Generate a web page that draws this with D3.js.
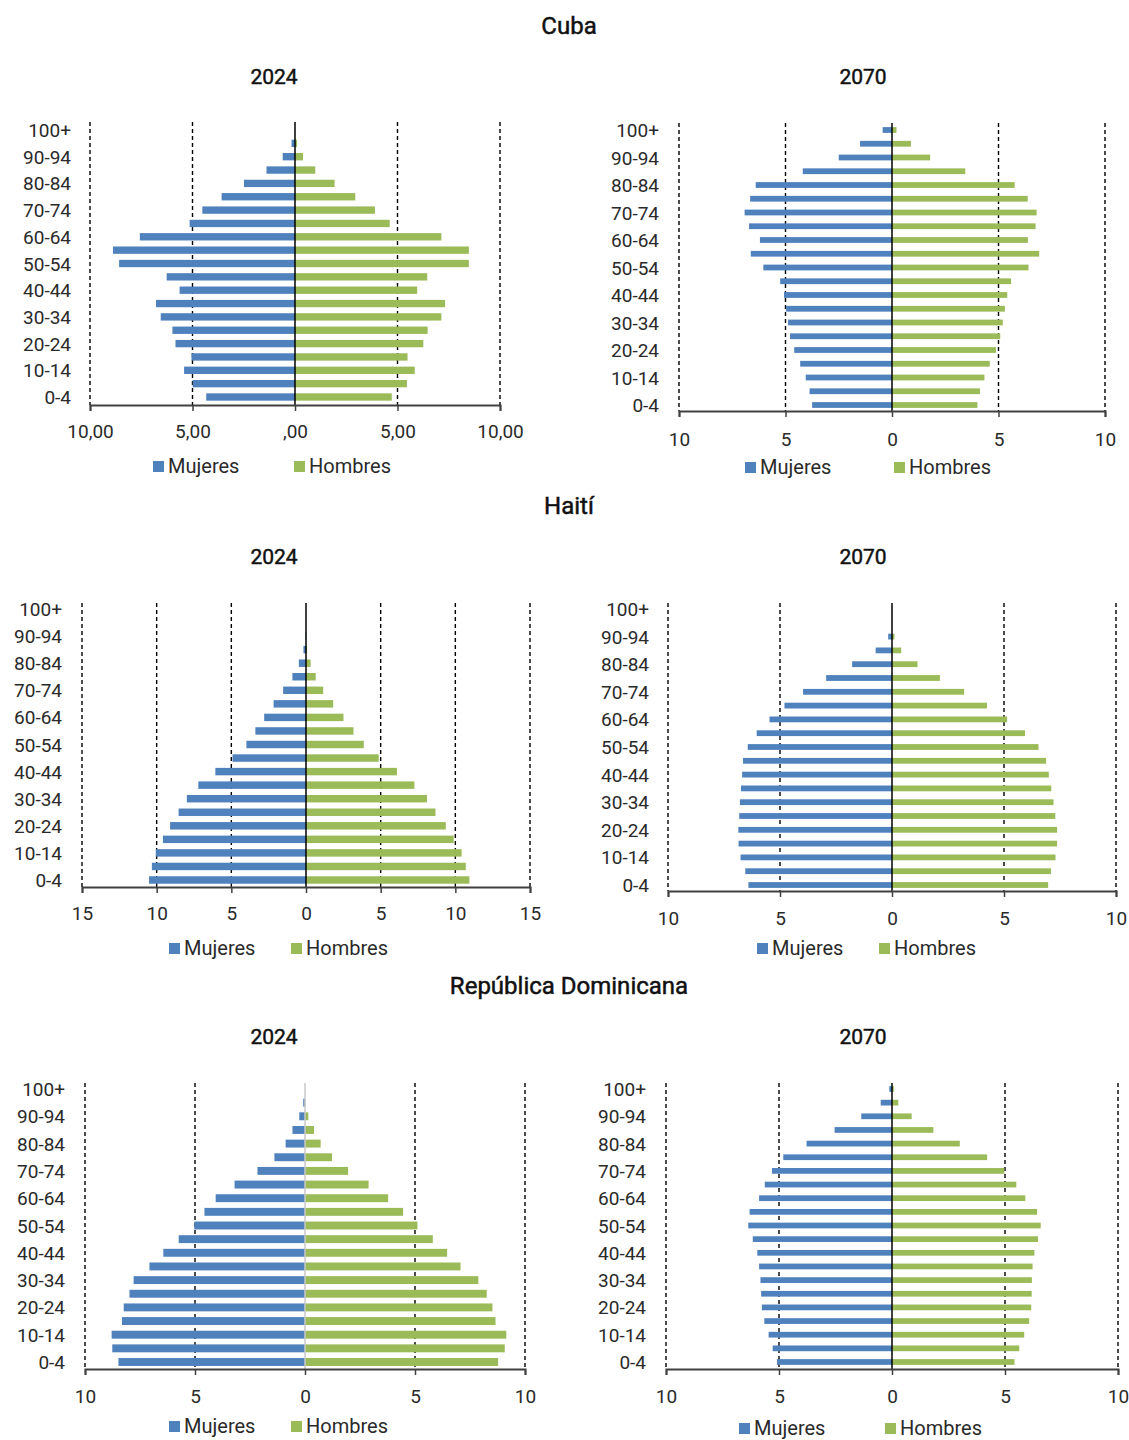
<!DOCTYPE html>
<html lang="es">
<head>
<meta charset="utf-8">
<title>Pirámides de población</title>
<script src="https://cdn.jsdelivr.net/npm/d3@7"></script>
<style>
  html, body { margin: 0; padding: 0; background: #fff; }
  svg { display: block; font-family: Roboto, "Noto Sans", sans-serif; }
</style>
</head>
<body>
<svg id="chart" width="1129" height="1440"></svg>
<script>
// Grupos de edad, de menor a mayor
const ageGroups = ["0-4","5-9","10-14","15-19","20-24","25-29","30-34","35-39","40-44","45-49",
  "50-54","55-59","60-64","65-69","70-74","75-79","80-84","85-89","90-94","95-99","100+"];

// Etiquetas visibles en el eje vertical
const ageTickLabels = ["100+","90-94","80-84","70-74","60-64","50-54","40-44","30-34","20-24","10-14","0-4"];

const seriesNames = ["Mujeres", "Hombres"];
const countries = ["Cuba", "Haití", "República Dominicana"];
const years = ["2024", "2070"];

// Porcentaje de población por grupo de edad (0-4 ... 100+)
const cuba2024Mujeres = [4.33,4.99,5.41,5.05,5.83,5.98,6.55,6.78,5.63,6.26,8.58,8.88,7.57,5.14,4.52,3.58,2.49,1.39,0.60,0.17,0];
const cuba2024Hombres = [4.72,5.46,5.84,5.49,6.26,6.47,7.14,7.32,5.96,6.45,8.48,8.48,7.14,4.62,3.90,2.94,1.93,0.99,0.39,0.10,0];
const cuba2070Mujeres = [3.75,3.87,4.05,4.31,4.59,4.79,4.88,4.97,5.07,5.25,6.04,6.63,6.20,6.71,6.92,6.66,6.40,4.19,2.50,1.50,0.44];
const cuba2070Hombres = [4.01,4.13,4.34,4.59,4.88,5.08,5.20,5.30,5.41,5.59,6.41,6.91,6.38,6.74,6.79,6.37,5.76,3.44,1.79,0.89,0.21];

const haiti2024Mujeres = [10.51,10.32,10.06,9.58,9.10,8.53,7.98,7.21,6.07,4.92,3.99,3.39,2.80,2.17,1.53,0.91,0.48,0.17,0.03,0,0];
const haiti2024Hombres = [10.94,10.70,10.42,9.89,9.36,8.67,8.10,7.26,6.09,4.87,3.87,3.18,2.51,1.82,1.15,0.65,0.31,0.07,0.02,0,0];
const haiti2070Mujeres = [6.41,6.55,6.76,6.85,6.86,6.82,6.79,6.74,6.69,6.65,6.44,6.04,5.47,4.80,3.97,2.94,1.78,0.73,0.17,0,0];
const haiti2070Hombres = [6.97,7.10,7.30,7.37,7.37,7.29,7.21,7.11,7.00,6.88,6.54,5.94,5.14,4.24,3.22,2.14,1.14,0.41,0.11,0,0];

const rd2024Mujeres = [8.48,8.76,8.79,8.32,8.24,7.98,7.79,7.07,6.44,5.74,5.03,4.57,4.06,3.20,2.16,1.39,0.88,0.57,0.26,0.08,0];
const rd2024Hombres = [8.78,9.08,9.15,8.66,8.52,8.26,7.88,7.07,6.46,5.81,5.11,4.46,3.78,2.89,1.96,1.23,0.71,0.41,0.15,0.02,0];
const rd2070Mujeres = [5.09,5.28,5.46,5.65,5.76,5.79,5.82,5.88,5.96,6.16,6.36,6.30,5.88,5.63,5.31,4.81,3.78,2.54,1.36,0.50,0.12];
const rd2070Hombres = [5.42,5.63,5.85,6.07,6.16,6.18,6.19,6.22,6.30,6.46,6.58,6.42,5.90,5.50,4.97,4.21,3.00,1.83,0.87,0.28,0.08];

// Marcas del eje horizontal
const ticks10 = [-10, -5, 0, 5, 10];
const ticks15 = [-15, -10, -5, 0, 5, 10, 15];

const colorMujeres = "#4f81bd";
const colorHombres = "#9bbb59";
const textColor = "#2a2a2a";

const fmtDecimal = v => v === 0 ? ",00" : d3.format(".2f")(Math.abs(v)).replace(".", ",");
const fmtInteger = v => String(Math.abs(v));

const svg = d3.select("#chart");

// Títulos de país
const countryTitleY = [26, 506, 986];
countries.forEach((c, i) => {
  svg.append("text")
    .attr("x", 569).attr("y", countryTitleY[i])
    .attr("text-anchor", "middle").attr("dominant-baseline", "central")
    .attr("font-size", 24).attr("font-weight", 400)
    .attr("fill", "#111").attr("stroke", "#111").attr("stroke-width", 0.5)
    .text(c);
});

// Disposición de cada pirámide
const panels = [
  { country: 0, year: 0, women: cuba2024Mujeres, men: cuba2024Hombres, ticks: ticks10, fmt: fmtDecimal,
    x0: 90, x1: 500, top: 122, bottom: 405, yFirst: 130, yLast: 397, labelRight: 71, barFrac: 0.55,
    tickY: 431, legendY: 466, legendX: [153, 294], centerColor: "#000" },
  { country: 0, year: 1, women: cuba2070Mujeres, men: cuba2070Hombres, ticks: ticks10, fmt: fmtInteger,
    x0: 679, x1: 1105, top: 123, bottom: 411, yFirst: 130, yLast: 405, labelRight: 659, barFrac: 0.42,
    tickY: 439, legendY: 467, legendX: [745, 894], centerColor: "#000" },
  { country: 1, year: 0, women: haiti2024Mujeres, men: haiti2024Hombres, ticks: ticks15, fmt: fmtInteger,
    x0: 82, x1: 530, top: 603, bottom: 887, yFirst: 609, yLast: 880, labelRight: 62, barFrac: 0.55,
    tickY: 913, legendY: 948, legendX: [169, 291], centerColor: "#000" },
  { country: 1, year: 1, women: haiti2070Mujeres, men: haiti2070Hombres, ticks: ticks10, fmt: fmtInteger,
    x0: 668, x1: 1116, top: 603, bottom: 891, yFirst: 609, yLast: 885, labelRight: 649, barFrac: 0.42,
    tickY: 918, legendY: 948, legendX: [757, 879], centerColor: "#000" },
  { country: 2, year: 0, women: rd2024Mujeres, men: rd2024Hombres, ticks: ticks10, fmt: fmtInteger,
    x0: 85, x1: 525, top: 1083, bottom: 1369, yFirst: 1089, yLast: 1362, labelRight: 65, barFrac: 0.58,
    tickY: 1396, legendY: 1426, legendX: [169, 291], centerColor: "#c8c8c8" },
  { country: 2, year: 1, women: rd2070Mujeres, men: rd2070Hombres, ticks: ticks10, fmt: fmtInteger,
    x0: 666, x1: 1118, top: 1083, bottom: 1369, yFirst: 1089, yLast: 1362, labelRight: 646, barFrac: 0.42,
    tickY: 1396, legendY: 1428, legendX: [739, 885], centerColor: "#000" }
];

const yearCenterX = [274, 863];
const yearTitleY = [77, 557, 1037];

panels.forEach(p => {
  const g = svg.append("g");
  const maxV = d3.max(p.ticks);

  const x = d3.scaleLinear().domain([-maxV, maxV]).range([p.x0, p.x1]);
  const y = d3.scalePoint().domain(ageGroups.slice().reverse()).range([p.yFirst, p.yLast]);
  const barH = y.step() * p.barFrac;

  // Título del año
  g.append("text")
    .attr("x", yearCenterX[p.year]).attr("y", yearTitleY[p.country])
    .attr("text-anchor", "middle").attr("dominant-baseline", "central")
    .attr("font-size", 21).attr("font-weight", 400)
    .attr("fill", "#111").attr("stroke", "#111").attr("stroke-width", 0.45)
    .text(years[p.year]);

  // Líneas guía discontinuas
  g.append("g").selectAll("line")
    .data(p.ticks.filter(t => t !== 0))
    .join("line")
    .attr("x1", d => x(d)).attr("x2", d => x(d))
    .attr("y1", p.top).attr("y2", p.bottom)
    .attr("stroke", "#000").attr("stroke-width", 1.4)
    .attr("stroke-dasharray", "4,3");

  const rows = ageGroups.map((a, i) => ({ age: a, women: p.women[i], men: p.men[i] }));

  // Barras de mujeres (izquierda)
  g.append("g").selectAll("rect")
    .data(rows.filter(d => d.women > 0))
    .join("rect")
    .attr("x", d => x(-d.women))
    .attr("width", d => x(0) - x(-d.women))
    .attr("y", d => y(d.age) - barH / 2)
    .attr("height", barH)
    .attr("fill", colorMujeres);

  // Barras de hombres (derecha)
  g.append("g").selectAll("rect")
    .data(rows.filter(d => d.men > 0))
    .join("rect")
    .attr("x", x(0))
    .attr("width", d => x(d.men) - x(0))
    .attr("y", d => y(d.age) - barH / 2)
    .attr("height", barH)
    .attr("fill", colorHombres);

  // Eje central
  g.append("line")
    .attr("x1", x(0)).attr("x2", x(0))
    .attr("y1", p.top).attr("y2", p.bottom)
    .attr("stroke", p.centerColor).attr("stroke-width", 1.5);

  // Eje horizontal
  const xAxis = d3.axisBottom(x).tickValues(p.ticks).tickFormat(p.fmt).tickSize(6).tickPadding(0);
  const ax = g.append("g").attr("transform", `translate(0,${p.bottom})`).call(xAxis);
  ax.select(".domain").attr("stroke", "#404040").attr("stroke-width", 2);
  ax.selectAll(".tick line").attr("stroke", "#404040").attr("stroke-width", 1.5);
  ax.selectAll(".tick text")
    .attr("y", p.tickY - p.bottom).attr("dy", null)
    .attr("dominant-baseline", "central")
    .attr("font-size", 19).attr("fill", textColor)
    .attr("font-family", "Roboto, sans-serif");

  // Etiquetas de edad
  const yAxis = d3.axisLeft(y).tickValues(ageTickLabels).tickSize(0).tickPadding(0);
  const ay = g.append("g").attr("transform", `translate(${p.labelRight},0)`).call(yAxis);
  ay.select(".domain").remove();
  ay.selectAll(".tick text")
    .attr("dy", null).attr("dominant-baseline", "central")
    .attr("font-size", 19).attr("fill", textColor)
    .attr("font-family", "Roboto, sans-serif");

  // Leyenda
  const leg = g.append("g");
  seriesNames.forEach((name, i) => {
    leg.append("rect")
      .attr("x", p.legendX[i]).attr("y", p.legendY - 5)
      .attr("width", 11).attr("height", 11)
      .attr("fill", i === 0 ? colorMujeres : colorHombres);
    leg.append("text")
      .attr("x", p.legendX[i] + 15).attr("y", p.legendY)
      .attr("dominant-baseline", "central")
      .attr("font-size", 20).attr("fill", textColor)
      .text(name);
  });
});
</script>
</body>
</html>
